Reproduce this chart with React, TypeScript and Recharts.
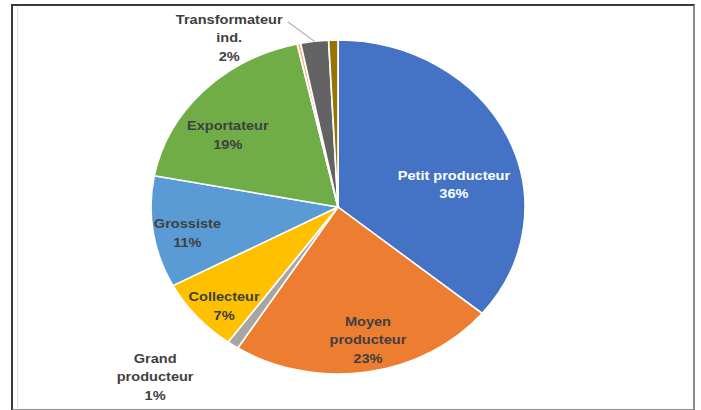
import React from 'react';
import { PieChart, Pie, Cell } from 'recharts';

// ---- data ----
const categories = [
  'Petit producteur',
  'Moyen producteur',
  'Grand producteur',
  'Collecteur',
  'Grossiste',
  'Exportateur',
  'Autre',
  'Transformateur ind.',
  'Divers',
];
const values = [36, 23, 1, 7.2, 10.8, 18.5, 0.3, 2.4, 0.8];
const percentLabels = ['36%', '23%', '1%', '7%', '11%', '19%', '', '2%', ''];
const labelLines: (string[] | null)[] = [
  ['Petit producteur'],
  ['Moyen', 'producteur'],
  ['Grand', 'producteur'],
  ['Collecteur'],
  ['Grossiste'],
  ['Exportateur'],
  null,
  ['Transformateur', 'ind.'],
  null,
];

// ---- styling ----
const colors = ['#4472C4', '#ED7D31', '#A5A5A5', '#FFC000', '#5B9BD5', '#70AD47', '#F4B183', '#636363', '#997300'];
const labelColors = ['#FFFFFF', '#404040', '#404040', '#404040', '#404040', '#404040', '#404040', '#404040', '#404040'];
// label placement: angle offset (deg, clockwise) from slice middle, radius factor
const labelAngleOffset = [12.7, -2.4, 9.7, -3.2, -2.3, -7.9, 0, -22.6, 0];
const labelRadiusFactor = [0.635, 0.81, 1.41, 0.85, 0.82, 0.73, 0, 1.17, 0];

const SX = 1.12; // horizontal stretch of the reference picture
const W = 701;
const H = 410;
const LINE_H = 18.5;

const tableData = categories.map((name, i) => ({ name, value: values[i] }));

const renderLabel = (props: any) => {
  const { cx, cy, midAngle, outerRadius, index } = props;
  const lines = labelLines[index];
  if (!lines) return null;
  const all = [...lines, percentLabels[index]];
  const fromTop = 90 - midAngle + labelAngleOffset[index];
  const rad = (fromTop * Math.PI) / 180;
  const r = outerRadius * labelRadiusFactor[index];
  const x = cx + r * Math.sin(rad);
  const y = cy - r * Math.cos(rad);
  const y0 = y - ((all.length - 1) * LINE_H) / 2;
  let leader: React.ReactNode = null;
  if (index === 7) {
    const mRad = ((90 - midAngle) * Math.PI) / 180;
    const ex = cx + outerRadius * Math.sin(mRad);
    const ey = cy - outerRadius * Math.cos(mRad);
    const sRad = ((90 - midAngle - 6.4) * Math.PI) / 180;
    const sr = outerRadius * 1.14;
    const sx = cx + sr * Math.sin(sRad);
    const sy = cy - sr * Math.cos(sRad);
    leader = <path d={`M${sx},${sy}L${ex},${ey}`} stroke="#A6A6A6" strokeWidth={1} fill="none" />;
  }
  return (
    <g>
      {leader}
      <text
        x={x}
        y={y0}
        textAnchor="middle"
        dominantBaseline="central"
        fill={labelColors[index]}
        fontFamily="'Liberation Sans', Arial, sans-serif"
        fontWeight="bold"
        fontSize={13}
      >
        {all.map((t, k) => (
          <tspan key={k} x={x} y={y0 + k * LINE_H}>
            {t}
          </tspan>
        ))}
      </text>
    </g>
  );
};

export default function App() {
  return (
    <div style={{ position: 'absolute', left: 0, top: 0, width: W, height: H, background: '#fff', overflow: 'hidden' }}>
      <div
        style={{
          position: 'absolute',
          left: 11,
          top: 4,
          width: 680,
          height: 403,
          borderTop: '2px solid #3a3a3a',
          borderLeft: '2px solid #3a3a3a',
          borderRight: '2px solid #8c8c8c',
          borderBottom: '2px solid #8c8c8c',
        }}
      />
      <div style={{ position: 'absolute', left: 17, top: 6, width: 1, height: 402, background: '#dcdcdc' }} />
      <div
        style={{
          position: 'absolute',
          left: 0,
          top: 0,
          width: W / SX,
          height: H,
          transform: `scaleX(${SX})`,
          transformOrigin: 'left top',
        }}
      >
        <PieChart width={W / SX} height={H} margin={{ top: 0, right: 0, bottom: 0, left: 0 }}>
          <Pie
            data={tableData}
            dataKey="value"
            nameKey="name"
            cx={338 / SX}
            cy={207}
            outerRadius={167}
            startAngle={90}
            endAngle={-270}
            stroke="#FFFFFF"
            strokeWidth={1.5}
            label={renderLabel}
            labelLine={false}
            isAnimationActive={false}
          >
            {tableData.map((d, i) => (
              <Cell key={d.name} fill={colors[i]} />
            ))}
          </Pie>
        </PieChart>
      </div>
    </div>
  );
}
